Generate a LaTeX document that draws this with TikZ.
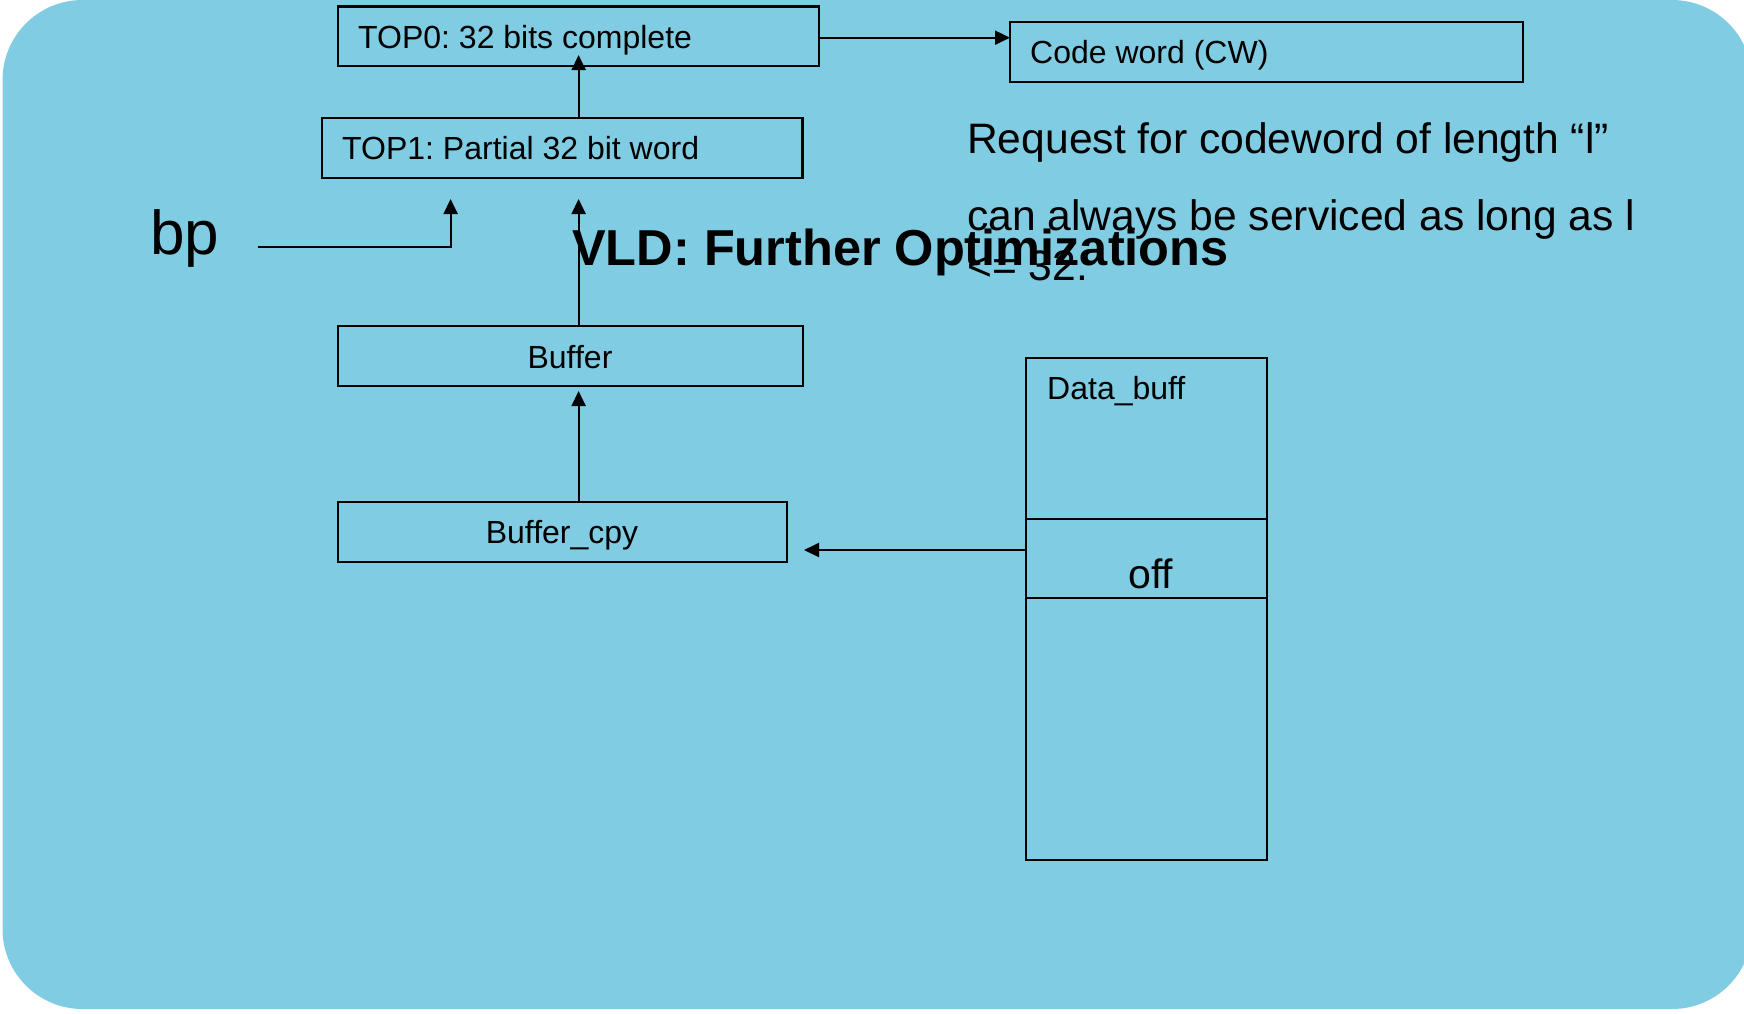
\documentclass[tikz,border=0pt]{standalone}
\usepackage{fontspec}
\setmainfont{Liberation Sans}
\usetikzlibrary{arrows.meta}
\definecolor{bg}{RGB}{127,204,227}
\frenchspacing
\begin{document}
\begin{tikzpicture}[x=1pt,y=-1pt,
  box/.style={draw=black,line width=2.2pt,inner sep=0pt,outer sep=0pt},
  lbl/.style={inner sep=0pt,anchor=base west,font=\fontsize{32}{38}\selectfont},
  clbl/.style={inner sep=0pt,anchor=base,font=\fontsize{32}{38}\selectfont},
  big/.style={inner sep=0pt,anchor=base west,font=\fontsize{42.6}{51}\selectfont},
  conn/.style={line width=2pt,-{Triangle[length=15pt,width=14pt]}}]
\useasboundingbox (0,0) rectangle (1744,1013);
\fill[bg, rounded corners=80pt] (2.5,0) rectangle (1752,1009);

% boxes
\node[box,minimum width=481pt,minimum height=59.5pt] (top0) at (578.5,36.25) {};
\node[box,minimum width=513pt,minimum height=60pt] (cw) at (1266.5,52) {};
\node[box,minimum width=480.5pt,minimum height=60.6pt] (top1) at (562.25,148) {};
\node[box,minimum width=464.3pt,minimum height=60.3pt] (buf) at (570.45,356.15) {};
\node[box,minimum width=448.3pt,minimum height=60.3pt] (bcpy) at (562.45,532.15) {};
\node[box,minimum width=241pt,minimum height=160.7pt] (dbtop) at (1146.5,438.35) {};
\node[box,minimum width=241pt,minimum height=79pt] (dbmid) at (1146.5,558.2) {};
\node[box,minimum width=241pt,minimum height=262.3pt] (dbbot) at (1146.5,728.85) {};

% labels
\node[lbl] (ltop0) at (358,48) {TOP0: 32 bits complete};
\node[lbl] (lcw) at (1030,63) {Code word (CW)};
\node[lbl] (ltop1) at (342,159) {TOP1: Partial 32 bit word};
\node[clbl] (lbuf) at (570,368) {Buffer};
\node[clbl] (lbcpy) at (562,543) {Buffer\_cpy};
\node[lbl] (ldb) at (1047,399) {Data\_buff};
\node[inner sep=0pt,anchor=base west,font=\fontsize{41}{49}\selectfont] (loff) at (1128,588) {off};
\node[inner sep=0pt,anchor=base west,font=\fontsize{62}{74}\selectfont] (bp) at (150,254) {bp};
\node[big] (req1) at (967,153) {Request for codeword of length “l”};
\node[big] (req2) at (967,230) {can always be serviced as long as l};
\node[big] (req3) at (967,280) {<= 32.};
\node[inner sep=0pt,anchor=base west,font=\bfseries\fontsize{50.5}{60}\selectfont] (title) at (572,265) {VLD: Further Optimizations};

% connector end points
\coordinate (cwin) at (1010,37.7);
\coordinate (a0) at (578.6,55);
\coordinate (a1) at (578.6,199);
\coordinate (a2) at (578.6,391);
\coordinate (bps) at (257.7,246.7);
\coordinate (bpe) at (450.6,199);
\coordinate (ds) at (1026.4,550);
\coordinate (de) at (804,550);

% connectors
\draw[conn] (top0.east |- cwin) -- (cwin);
\draw[conn] (top1.north -| a0) -- (a0);
\draw[conn] (buf.north -| a1) -- (a1);
\draw[conn] (bps) -| (bpe);
\draw[conn] (bcpy.north -| a2) -- (a2);
\draw[conn] (ds) -- (de);
\end{tikzpicture}
\end{document}
